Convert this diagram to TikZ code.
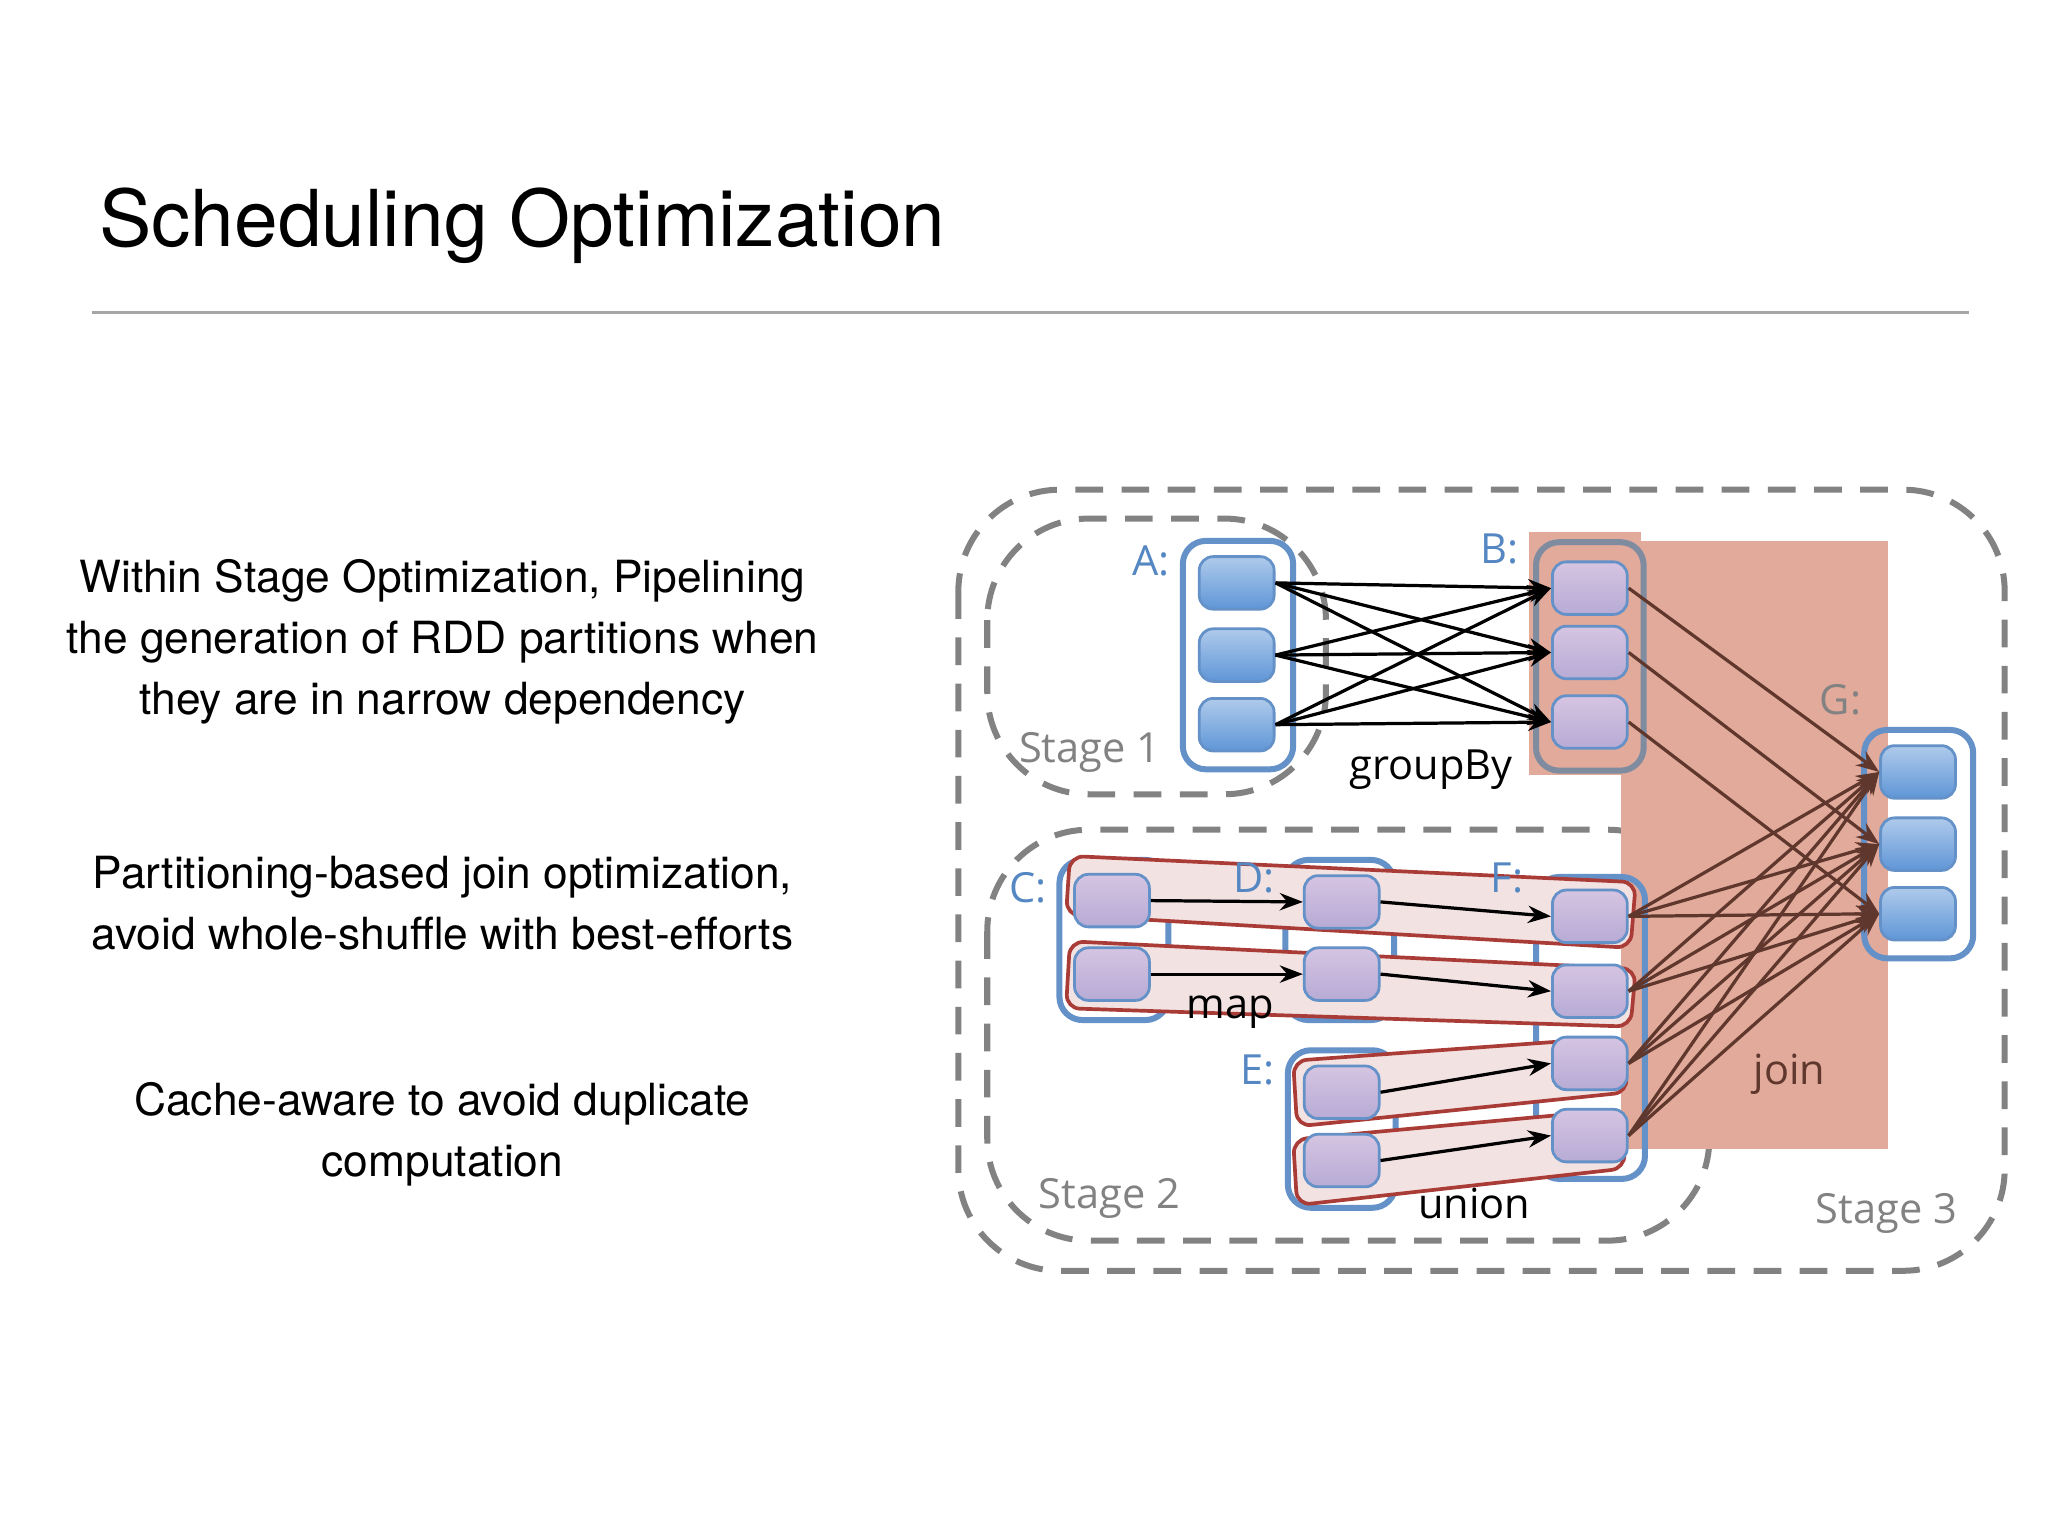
\documentclass[tikz,border=0pt]{standalone}
\usepackage{fontspec}
\setmainfont{TeX Gyre Heros}
\newfontfamily\lblfont{Open Sans}
\usetikzlibrary{arrows.meta}
\definecolor{pblue}{RGB}{95,150,215}
\definecolor{boxblue}{RGB}{100,145,200}
\definecolor{salmon}{RGB}{225,170,155}
\definecolor{rgrp}{RGB}{170,60,55}
\definecolor{brn}{RGB}{95,55,45}
\definecolor{stagegray}{RGB}{130,130,130}
\tikzset{
  part/.style={draw=boxblue, rounded corners=3pt, line width=0.6pt, top color=pblue!50, bottom color=pblue, minimum width=0.57cm, minimum height=0.40cm, inner sep=0pt},
  gpart/.style={part, top color=boxblue!40!violet!30, bottom color=boxblue!60!violet!50},
  rdd/.style={draw=boxblue, rounded corners=5pt, line width=1.3pt},
  stage/.style={draw=stagegray, dashed, line width=1.3pt, dash pattern=on 6pt off 4pt, rounded corners=22pt},
  grp/.style={draw=rgrp, fill=rgrp!15, line width=0.8pt, rounded corners=3pt},
  lbl/.style={font=\lblfont\fontsize{9}{10}\selectfont, text=pblue!90!black},
  slbl/.style={font=\lblfont\fontsize{9}{10}\selectfont, text=stagegray},
  olbl/.style={font=\lblfont\fontsize{9}{10}\selectfont, text=black},
  ar/.style={-{Stealth[length=5pt]}, line width=0.7pt, black},
  br/.style={-{Stealth[length=5pt]}, line width=0.7pt, brn},
  body/.style={font=\fontsize{9.6}{13.2}\selectfont, align=center}
}
\begin{document}
\begin{tikzpicture}[x=0.01cm, y=-0.01cm]
\useasboundingbox (0,0) rectangle (1560,1170);
\node[anchor=base west, font=\fontsize{17}{20}\selectfont, inner sep=0] (title) at (75,188) {Scheduling Optimization};
\draw[gray!70, line width=0.6pt] (70,238) coordinate (l1) -- (1500,238) coordinate (l2);
\node[body] (t1) at (337,489) {Within Stage Optimization, Pipelining\\the generation of RDD partitions when\\they are in narrow dependency};
\node[body] (t2) at (337,688) {Partitioning-based join optimization,\\avoid whole-shuffle with best-efforts};
\node[body] (t3) at (337,864) {Cache-aware to avoid duplicate\\computation};

% stages
\draw[stage] (730,373) rectangle (1527,968);
\draw[stage] (752,395) rectangle (1010,605);
\draw[stage] (752,632) rectangle (1302,945);

% join background
\fill[salmon] (1235,412) rectangle (1438,875);
\fill[salmon] (1165,405) rectangle (1250,590);

% RDD boxes
\draw[rdd] (901,412) rectangle (985,586);
\draw[rdd, draw=boxblue!70!brown] (1170,413) rectangle (1252,587);
\draw[rdd] (1420,556) rectangle (1503,730);
\draw[rdd] (807,655) rectangle (890,777);
\draw[rdd] (979,655) rectangle (1062,777);
\draw[rdd] (981,800) rectangle (1063,920);
\draw[rdd] (1170,668) rectangle (1253,898);

% pipelined groups
\draw[grp] (815,652) -- (1246,672) -- (1242,722) -- (812,697) -- cycle;
\draw[grp] (815,717) -- (1246,738) -- (1242,782) -- (812,768) -- cycle;
\draw[grp] (985,808) -- (1235,790) -- (1240,832) -- (988,858) -- cycle;
\draw[grp] (985,868) -- (1235,845) -- (1238,890) -- (988,918) -- cycle;

% partitions
\foreach \n/\y in {1/444,2/499,3/552} \node[part] (a\n) at (942,\y) {};
\foreach \n/\y in {1/448,2/497,3/550} \node[gpart] (b\n) at (1211,\y) {};
\foreach \n/\y in {1/588,2/643,3/696} \node[part] (g\n) at (1461,\y) {};
\foreach \n/\y in {1/686,2/742} \node[gpart] (c\n) at (847,\y) {};
\foreach \n/\y in {1/687,2/742} \node[gpart] (d\n) at (1022,\y) {};
\foreach \n/\y in {1/832,2/884} \node[gpart] (e\n) at (1022,\y) {};
\foreach \n/\y in {1/698,2/755,3/810,4/865} \node[gpart] (f\n) at (1211,\y) {};

% labels
\node[lbl] (la) at (877,427) {A:};
\node[lbl] (lb) at (1142,418) {B:};
\node[lbl, text=stagegray] (lg) at (1402,533) {G:};
\node[lbl] (lc) at (783,676) {C:};
\node[lbl] (ld) at (955,669) {D:};
\node[lbl] (le) at (958,815) {E:};
\node[lbl] (lf) at (1148,669) {F:};
\node[olbl] (gb) at (1090,586) {groupBy};
\node[olbl] (mp) at (937,771) {map};
\node[olbl] (un) at (1123,917) {union};
\node[olbl, text=brn] (jn) at (1363,818) {join};
\node[slbl] (s1) at (830,573) {Stage 1};
\node[slbl] (s2) at (845,913) {Stage 2};
\node[slbl] (s3) at (1437,924) {Stage 3};

% edges
\foreach \i in {1,2,3} \foreach \j in {1,2,3} \draw[ar] (a\i.east) -- (b\j.west);
\foreach \i in {1,2,3} \draw[br] (b\i.east) -- (g\i.west);
\foreach \i in {1,2,3,4} \foreach \j in {1,2,3} \draw[br] (f\i.east) -- (g\j.west);
\foreach \i in {1,2} {
  \draw[ar] (c\i.east) -- (d\i.west);
  \draw[ar] (d\i.east) -- (f\i.west);
}
\draw[ar] (e1.east) -- (f3.west);
\draw[ar] (e2.east) -- (f4.west);
\end{tikzpicture}
\end{document}
